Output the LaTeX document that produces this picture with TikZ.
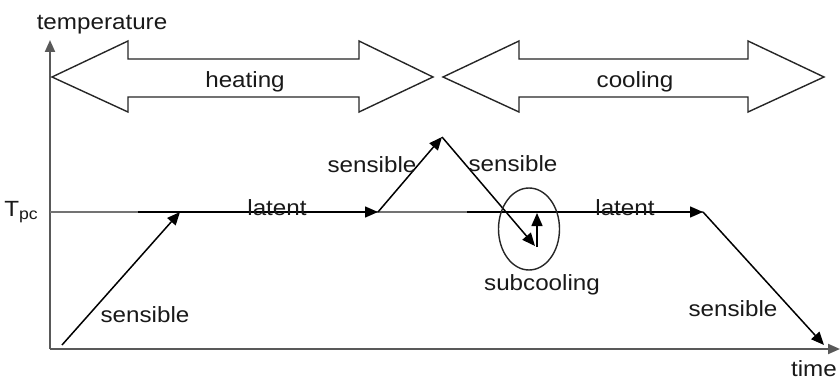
\documentclass[tikz,border=0pt]{standalone}
\usepackage{fontspec}
\setmainfont[FakeStretch=1.1]{Liberation Sans}
\usetikzlibrary{arrows.meta,calc,shapes.geometric}
\begin{document}
\begin{tikzpicture}[x=1pt,y=-1pt,
  lbl/.style={font=\fontsize{22}{24}\selectfont, text=black!90, inner sep=0pt},
  axis/.style={draw=black!65, line width=2pt},
  proc/.style={draw=black, line width=1.5pt, -{Triangle[length=13pt,width=11pt]}},
  bigarrow/.style={draw=black!85, line width=1.4pt, fill=white, line join=miter}]
\useasboundingbox (0,0) rectangle (840,382);
% points
\coordinate (o) at (50,349);
\coordinate (ytop) at (50,40);
\coordinate (xend) at (840,349);
\coordinate (tl) at (50,212);
\coordinate (tr) at (703,212);
\coordinate (s1a) at (62,345);
\coordinate (s1b) at (180,212);
\coordinate (l1a) at (138,212);
\coordinate (l1b) at (378,212);
\coordinate (pk) at (442,137);
\coordinate (sc) at (535,246);
\coordinate (scb) at (537,247);
\coordinate (sct) at (537,213);
\coordinate (l2a) at (467,212);
\coordinate (l2b) at (703,212);
\coordinate (s4b) at (824,345);
% axes
\draw[axis, -{Triangle[length=12pt,width=10pt]}] (o) -- (ytop);
\draw[axis, -{Triangle[length=12pt,width=10pt]}] (o) -- (xend);
% Tpc line
\draw[draw=black!55, line width=1.2pt] (tl) -- (tr);
% double arrows
\draw[bigarrow] (52,77) -- (128,41) -- (128,59) -- (359,59) -- (359,41) -- (433,77)
  -- (359,112) -- (359,97) -- (128,97) -- (128,112) -- cycle;
\draw[bigarrow] (443,77) -- (519,41) -- (519,59) -- (748,59) -- (748,41) -- (824,77)
  -- (748,112) -- (748,97) -- (519,97) -- (519,112) -- cycle;
% process
\draw[proc] (s1a) -- (s1b);
\draw[proc] (l1a) -- (l1b);
\draw[proc] (l1b) -- (pk);
\draw[proc] (pk) -- (sc);
\draw[proc] (scb) -- (sct);
\draw[proc] (l2a) -- (l2b);
\draw[proc] (l2b) -- (s4b);
% subcooling ellipse
\node[draw=black!85, line width=1.4pt, ellipse, minimum width=61pt, minimum height=82pt, inner sep=0pt] (ell) at (529,229) {};
% labels
\node[lbl] (temp) at (102,25) {temperature};
\node[lbl] (heat) at (245,82) {heating};
\node[lbl] (cool) at (635,82) {cooling};
\node[lbl] (tpc) at (21,212) {T{\fontsize{16}{16}\selectfont\raisebox{-0.35ex}{pc}}};
\node[lbl] (ls1) at (145,315) {sensible};
\node[lbl] (ll1) at (277,208) {latent};
\node[lbl] (ls2) at (372,165) {sensible};
\node[lbl] (ls3) at (513,164) {sensible};
\node[lbl] (lsub) at (542,285) {subcooling};
\node[lbl] (ll2) at (625,208) {latent};
\node[lbl] (ls4) at (733,309) {sensible};
\node[lbl, anchor=east] (time) at (837,369) {time};
\end{tikzpicture}
\end{document}
